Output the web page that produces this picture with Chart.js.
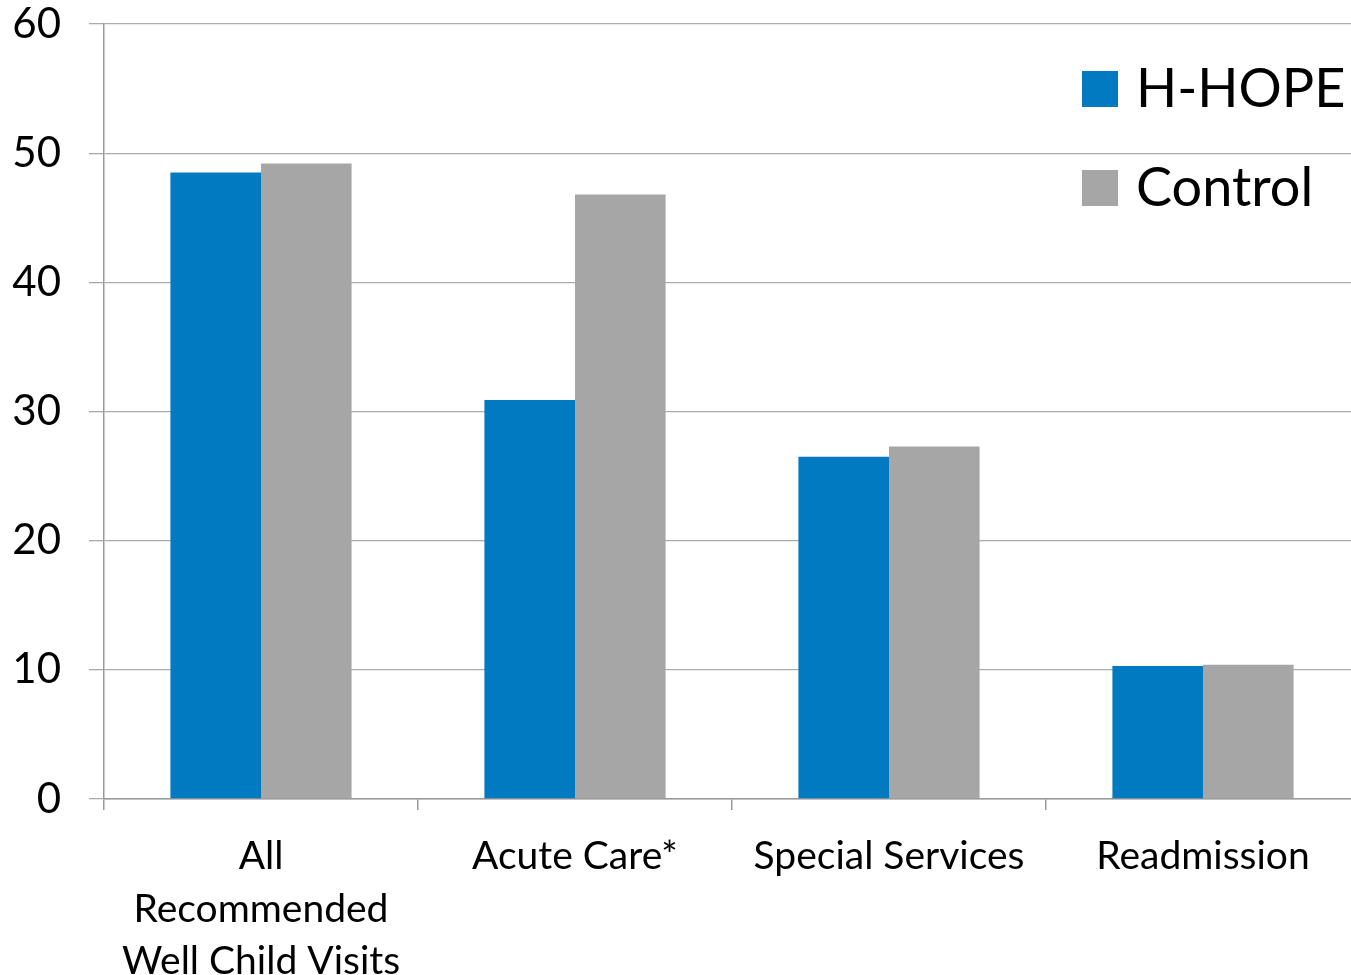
<!DOCTYPE html>
<html>
<head>
<meta charset="utf-8">
<script src="https://cdn.jsdelivr.net/npm/chart.js@4/dist/chart.umd.min.js"></script>
<style>
  html, body { margin: 0; padding: 0; background: #fff; overflow: hidden; }
  /* plot runs a few px past the window edge, as in the original */
  #wrap { width: 1360px; height: 975px; position: relative; }
</style>
</head>
<body>
<div id="wrap"><canvas id="chart"></canvas></div>
<script>
const categories = [
  ['All', 'Recommended', 'Well Child Visits'],
  'Acute Care*',
  'Special Services',
  'Readmission'
];
const seriesNames = ['H-HOPE', 'Control'];
const hhopeValues = [48.5, 30.9, 26.5, 10.3];
const controlValues = [49.2, 46.8, 27.3, 10.4];
const yTicks = [0, 10, 20, 30, 40, 50, 60];

const FONT = 'Lato, "Open Sans", sans-serif';
const BLUE = '#017AC1';
const GREY = '#A6A6A6';

// legend sits inside the plot, top right
const insideLegend = {
  id: 'insideLegend',
  afterDraw(chart) {
    const ctx = chart.ctx;
    ctx.save();
    ctx.font = '54px ' + FONT;
    ctx.textBaseline = 'middle';
    chart.data.datasets.forEach((ds, i) => {
      const y = 89 + i * 99;
      ctx.fillStyle = ds.backgroundColor;
      ctx.fillRect(1082, y - 18, 36, 36);
      ctx.fillStyle = '#000';
      ctx.fillText(ds.label, 1136, y + 1);
    });
    ctx.restore();
  }
};

new Chart(document.getElementById('chart'), {
  type: 'bar',
  data: {
    labels: categories,
    datasets: [
      { label: seriesNames[0], data: hhopeValues, backgroundColor: BLUE },
      { label: seriesNames[1], data: controlValues, backgroundColor: GREY }
    ]
  },
  options: {
    responsive: true,
    maintainAspectRatio: false,
    animation: false,
    layout: { padding: { top: 24, right: 0, left: 0, bottom: 0 } },
    datasets: {
      bar: { categoryPercentage: 0.577, barPercentage: 1 }
    },
    plugins: {
      legend: { display: false },
      tooltip: { enabled: false }
    },
    scales: {
      x: {
        grid: {
          drawOnChartArea: false,
          drawTicks: true,
          tickLength: 11,
          color: '#9a9a9a',
          lineWidth: 1.5
        },
        border: { color: '#9a9a9a', width: 1.5 },
        ticks: {
          color: '#000',
          font: { family: FONT, size: 39, lineHeight: 1.35 },
          padding: 20,
          maxRotation: 0,
          autoSkip: false
        },
        afterFit(scale) {
          scale.height = 176;
          scale.paddingLeft = 0;
          scale.paddingRight = 0;
        }
      },
      y: {
        min: 0,
        max: 60,
        afterBuildTicks(scale) { scale.ticks = yTicks.map(v => ({ value: v })); },
        grid: {
          color: '#ababab',
          lineWidth: 1.3,
          tickLength: 15
        },
        border: { color: '#9a9a9a', width: 1.5 },
        ticks: {
          color: '#000',
          font: { family: FONT, size: 42 },
          padding: 28
        },
        afterFit(scale) {
          scale.width = 104;
          scale.paddingTop = 0;
          scale.paddingBottom = 0;
        }
      }
    }
  },
  plugins: [insideLegend]
});
</script>
</body>
</html>
